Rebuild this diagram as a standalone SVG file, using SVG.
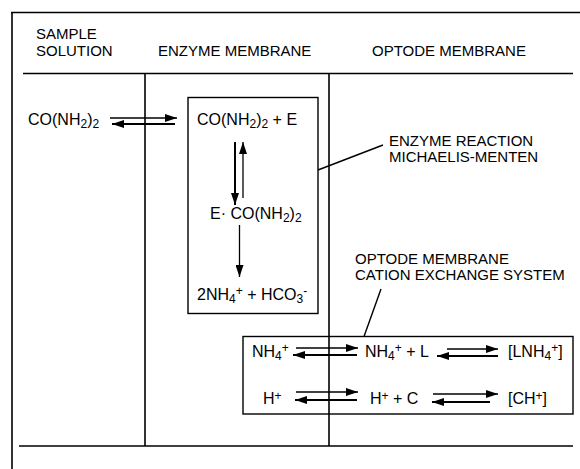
<svg xmlns="http://www.w3.org/2000/svg" width="580" height="469" viewBox="0 0 580 469">
<defs>
<marker id="ah" markerWidth="12" markerHeight="8" refX="12" refY="4" orient="auto" markerUnits="userSpaceOnUse"><path d="M0,0 L12,4 L0,8 z" fill="#000"/></marker>
<style>
text{font-family:"Liberation Sans",Arial,Helvetica,sans-serif;fill:#000}
.lbl{font-size:15px}
.chem{font-size:16px}
.s{font-size:12px}
.frame line{stroke:#000;stroke-width:1.6;fill:none}
.box{stroke:#000;stroke-width:1.4;fill:none}
.arr{stroke:#000;stroke-width:1.3;fill:none;marker-end:url(#ah)}
.arr2{stroke:#000;stroke-width:2;fill:none;marker-end:url(#ah)}
.lead{stroke:#000;stroke-width:1.4}
</style>
</defs>
<rect width="580" height="469" fill="#fff"/>
<g id="frame" class="frame">
<line x1="11" y1="12.5" x2="580" y2="12.5"/>
<line x1="12" y1="12" x2="12" y2="469"/>
<line x1="23" y1="73.5" x2="573" y2="73.5"/>
<line x1="19" y1="446" x2="573" y2="446"/>
<line x1="145" y1="73.5" x2="145" y2="446"/>
<line x1="329" y1="73.5" x2="329" y2="446"/>
</g>
<g id="header-sample"><text class="lbl" x="36" y="39">SAMPLE</text><text class="lbl" x="36" y="56">SOLUTION</text></g>
<g id="header-enzyme"><text class="lbl" x="158" y="56">ENZYME MEMBRANE</text></g>
<g id="header-optode"><text class="lbl" x="372" y="56">OPTODE MEMBRANE</text></g>
<g id="urea-sample"><text class="chem" x="28" y="125">CO(NH<tspan class="s" dy="3">2</tspan><tspan dy="-3">)</tspan><tspan class="s" dy="3">2</tspan></text></g>
<g id="enzyme-box">
<rect class="box" x="188" y="97.5" width="130" height="216"/>
<text class="chem" x="197" y="125">CO(NH<tspan class="s" dy="3">2</tspan><tspan dy="-3">)</tspan><tspan class="s" dy="3">2</tspan><tspan dy="-3"> + E</tspan></text>
<text class="chem" x="210" y="219">E· CO(NH<tspan class="s" dy="3">2</tspan><tspan dy="-3">)</tspan><tspan class="s" dy="3">2</tspan></text>
<text class="chem" x="197" y="300">2NH<tspan class="s" dy="3">4</tspan><tspan class="s" dy="-8">+</tspan><tspan dy="5"> + HCO</tspan><tspan class="s" dy="3">3</tspan><tspan class="s" dy="-8">-</tspan></text>
</g>
<g id="label-enzyme-reaction"><text class="lbl" x="389" y="146">ENZYME REACTION</text><text class="lbl" x="389" y="162">MICHAELIS-MENTEN</text></g>
<g id="label-cation"><text class="lbl" x="355" y="264">OPTODE MEMBRANE</text><text class="lbl" x="355" y="280">CATION EXCHANGE SYSTEM</text></g>
<g id="cation-box">
<rect class="box" x="243" y="336.5" width="330" height="77.5"/>
<text class="chem" x="252" y="357">NH<tspan class="s" dy="3">4</tspan><tspan class="s" dy="-8">+</tspan></text>
<text class="chem" x="365" y="357">NH<tspan class="s" dy="3">4</tspan><tspan class="s" dy="-8">+</tspan><tspan dy="5"> + L</tspan></text>
<text class="chem" x="508" y="357">[LNH<tspan class="s" dy="3">4</tspan><tspan class="s" dy="-8">+</tspan><tspan dy="5">]</tspan></text>
<text class="chem" x="263" y="404">H<tspan class="s" dy="-4">+</tspan></text>
<text class="chem" x="370" y="404">H<tspan class="s" dy="-4">+</tspan><tspan dy="4"> + C</tspan></text>
<text class="chem" x="508" y="404">[CH<tspan class="s" dy="-4">+</tspan><tspan dy="4">]</tspan></text>
</g>
<g id="connectors">
<line class="arr" x1="110" y1="118" x2="177" y2="118"/>
<line class="arr2" x1="175" y1="124" x2="112" y2="124"/>
<line class="arr2" x1="235" y1="142" x2="235" y2="205"/>
<line class="arr" x1="243" y1="198" x2="243" y2="142"/>
<line class="arr" x1="239.5" y1="225" x2="239.5" y2="277"/>
<line class="lead" x1="318" y1="170" x2="383" y2="145"/>
<line class="lead" x1="381" y1="289" x2="364" y2="336.5"/>
<line class="arr" x1="296" y1="348" x2="358" y2="348"/>
<line class="arr2" x1="357" y1="355" x2="293" y2="355"/>
<line class="arr" x1="447" y1="349" x2="498" y2="349"/>
<line class="arr2" x1="498" y1="356" x2="437" y2="356"/>
<line class="arr" x1="296" y1="392" x2="358" y2="392"/>
<line class="arr2" x1="357" y1="400" x2="295" y2="400"/>
<line class="arr" x1="433" y1="394" x2="498" y2="394"/>
<line class="arr2" x1="490" y1="402" x2="432" y2="402"/>
</g>
</svg>
